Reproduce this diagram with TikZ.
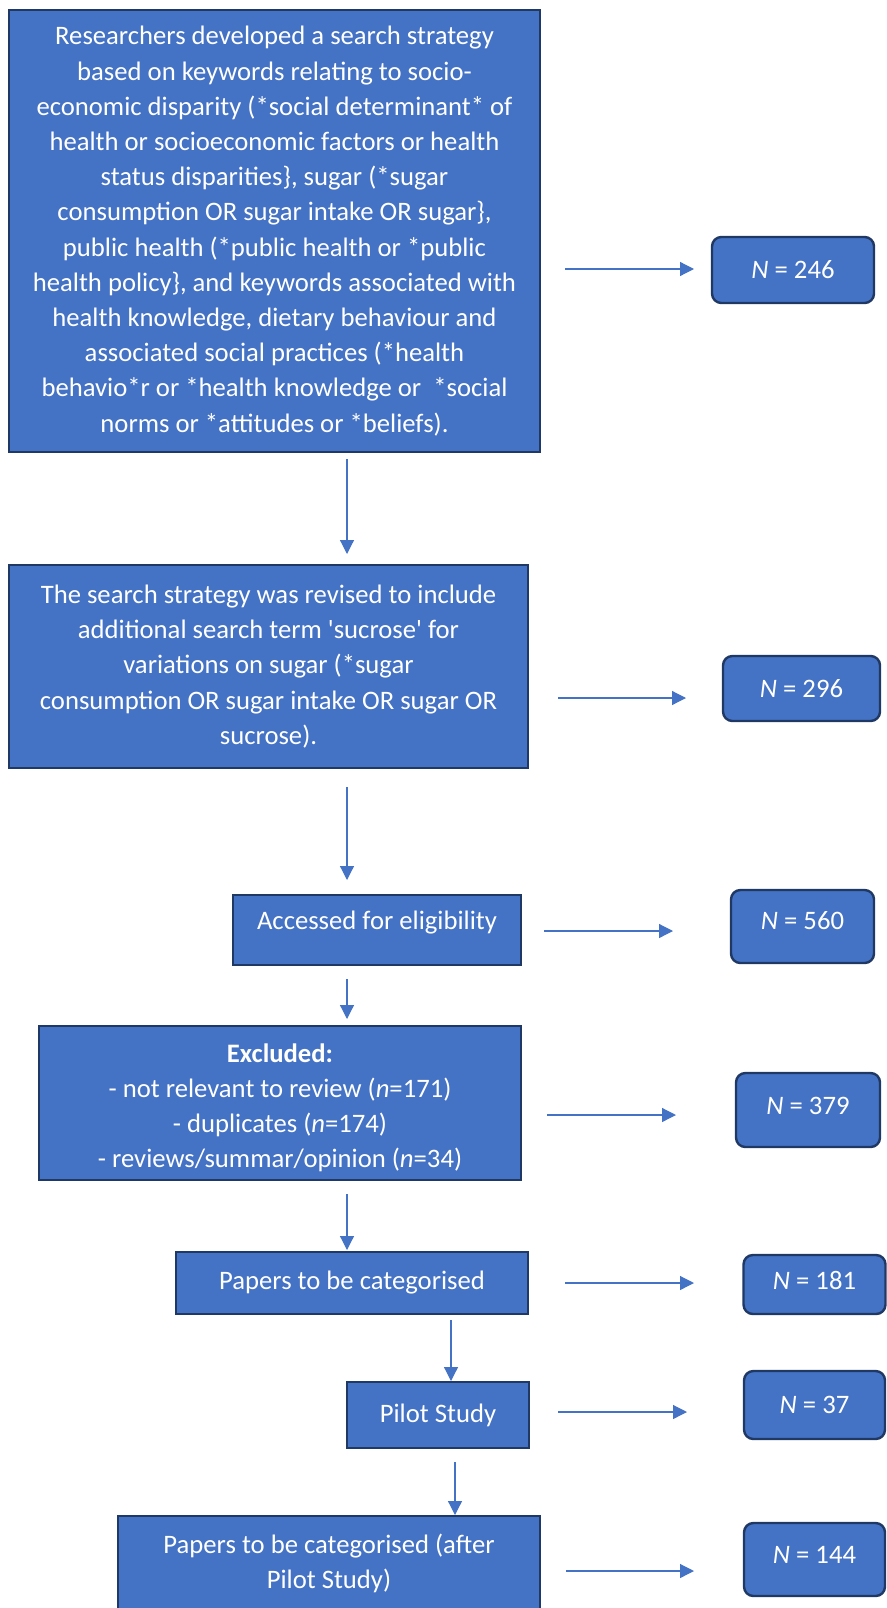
\documentclass[tikz,border=0pt]{standalone}
\usepackage{fontspec}
\setmainfont{Carlito}
\usetikzlibrary{arrows.meta,calc}
\definecolor{boxfill}{HTML}{4472C4}
\definecolor{boxline}{HTML}{1F3864}
\definecolor{arrowc}{HTML}{4472C4}
\begin{document}
\begin{tikzpicture}[x=0.75pt,y=-0.75pt,
  flow/.style={draw=boxline, line width=1.5pt, fill=boxfill, text=white, align=center, inner sep=0pt, font=\fontsize{20}{26.4}\selectfont},
  flowtext/.style={text=white, align=center, inner sep=0pt, font=\fontsize{20}{26.3}\selectfont},
  count/.style={draw=boxline, line width=1.8pt, fill=boxfill, text=white, rounded corners=7pt, align=center, inner sep=0pt, font=\fontsize{20}{24}\selectfont},
  link/.style={draw=arrowc, line width=0.9pt, -{Triangle[length=10.5pt,width=10.5pt]}}
]
\useasboundingbox (0,0) rectangle (887,1608);

% main flow boxes
\node[flow, minimum width=398.25pt, minimum height=331.5pt] (b1) at (274.5,231) {Researchers developed a search strategy\\based on keywords relating to socio-\\economic disparity (*social determinant* of\\health or socioeconomic factors or health\\status disparities\}, sugar (*sugar\\consumption OR sugar intake OR sugar\},\\public health (*public health or *public\\health policy\}, and keywords associated with\\health knowledge, dietary behaviour and\\associated social practices (*health\\behavio*r or *health knowledge or\ \ *social\\norms or *attitudes or *beliefs).};

\node[flow, minimum width=389.25pt, minimum height=152.25pt, font=\fontsize{20}{26.5}\selectfont] (b2) at (268.5,666.5) {The search strategy was revised to include\\additional search term \textquotesingle sucrose\textquotesingle{} for\\variations on sugar (*sugar\\consumption OR sugar intake OR sugar OR\\sucrose).};

\node[flow, minimum width=216pt, minimum height=52.5pt, text depth=14pt] (b3) at (377,930) {Accessed for eligibility};

\node[flow, minimum width=361.5pt, minimum height=115.5pt] (b4) at (280,1103) {};
\begin{scope}
  \clip ($(b4.north west)+(1,1)$) rectangle ($(b4.south east)+(-1,-8)$);
  \node[flowtext] (b4t) at ($(b4.center)+(0,5)$) {\textbf{Excluded:}\\- not relevant to review (\textit{n}=171)\\- duplicates (\textit{n}=174)\\- reviews/summar/opinion (\textit{n}=34)};
\end{scope}

\node[flow, minimum width=264pt, minimum height=46.5pt] (b5) at (352,1283) {Papers to be categorised};

\node[flow, minimum width=136.5pt, minimum height=49.5pt] (b6) at (438,1415) {Pilot Study};

\node[flow, minimum width=316.5pt, minimum height=71pt, font=\fontsize{20}{26.3}\selectfont] (b7) at (329,1563) {Papers to be categorised (after\\Pilot Study)};

% count boxes
\node[count, minimum width=121.5pt, minimum height=49.5pt] (c1) at (793,270) {\textit{N} = 246};
\node[count, minimum width=117.75pt, minimum height=48.75pt] (c2) at (801.5,688.5) {\textit{N} = 296};
\node[count, minimum width=107.25pt, minimum height=54.75pt, text depth=9pt] (c3) at (802.5,926.5) {\textit{N} = 560};
\node[count, minimum width=108pt, minimum height=55.5pt, text depth=6pt] (c4) at (808,1110) {\textit{N} = 379};
\node[count, minimum width=106.5pt, minimum height=44.25pt, text depth=6pt] (c5) at (814.5,1284.5) {\textit{N} = 181};
\node[count, minimum width=105.75pt, minimum height=51pt] (c6) at (814.5,1405) {\textit{N} = 37};
\node[count, minimum width=105.75pt, minimum height=54.75pt, text depth=6.5pt] (c7) at (814.5,1559.5) {\textit{N} = 144};

% arrow end points
\coordinate (h1s) at (565,269);   \coordinate (h1e) at (694,269);
\coordinate (h2s) at (558,698);   \coordinate (h2e) at (686,698);
\coordinate (h3s) at (544,931);   \coordinate (h3e) at (673,931);
\coordinate (h4s) at (547,1115);  \coordinate (h4e) at (676,1115);
\coordinate (h5s) at (565,1283);  \coordinate (h5e) at (694,1283);
\coordinate (h6s) at (558,1412);  \coordinate (h6e) at (687,1412);
\coordinate (h7s) at (566,1571);  \coordinate (h7e) at (694,1571);

\coordinate (v1s) at (347,459);   \coordinate (v1e) at (347,554);
\coordinate (v2s) at (347,787);   \coordinate (v2e) at (347,880);
\coordinate (v3s) at (347,979);   \coordinate (v3e) at (347,1019);
\coordinate (v4s) at (347,1194);  \coordinate (v4e) at (347,1250);
\coordinate (v5s) at (451,1320);  \coordinate (v5e) at (451,1381);
\coordinate (v6s) at (455,1462);  \coordinate (v6e) at (455,1515);

\foreach \i in {1,...,7} {\draw[link] (h\i s) -- (h\i e);}
\foreach \i in {1,...,6} {\draw[link] (v\i s) -- (v\i e);}
\end{tikzpicture}
\end{document}
